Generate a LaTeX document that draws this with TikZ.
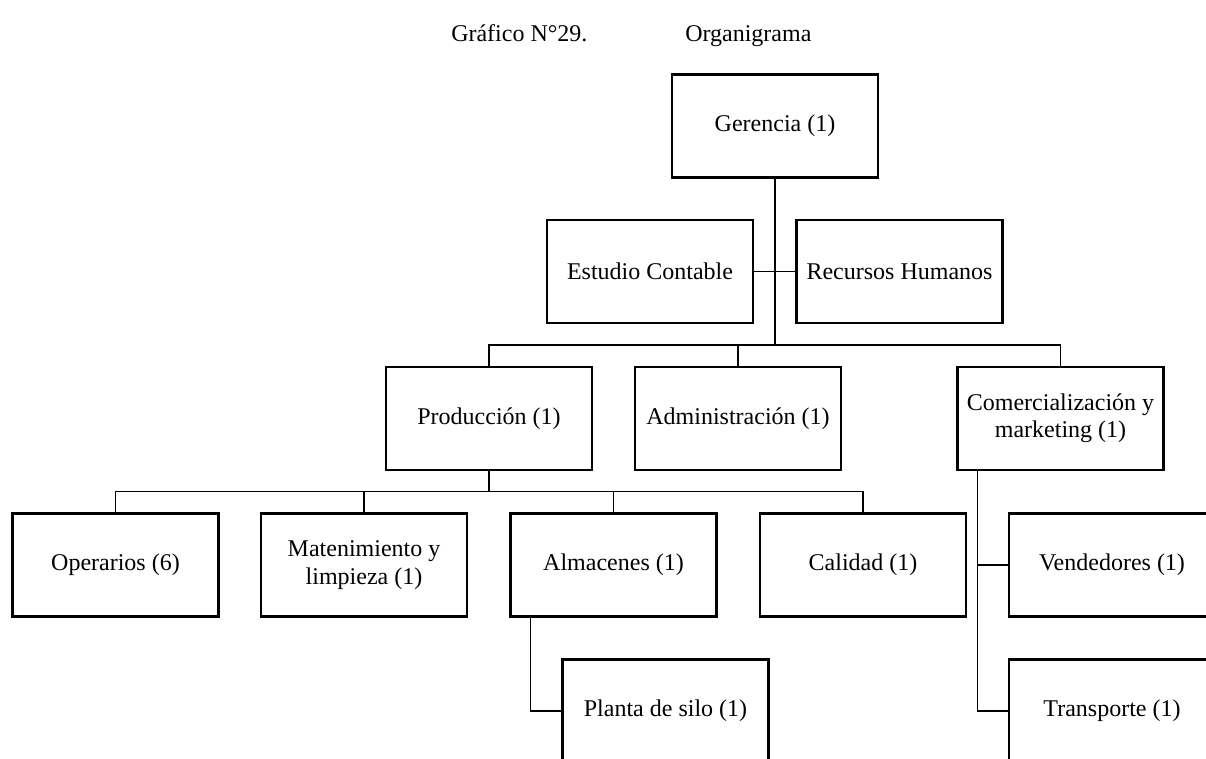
\documentclass[tikz,border=0pt]{standalone}
\usepackage{fontspec}
\setmainfont{Liberation Serif}
\begin{document}
\begin{tikzpicture}[x=0.75pt,y=-0.75pt,
  orgbox/.style={draw, line width=1.9pt, minimum width=154.5pt, minimum height=77.25pt,
    align=center, inner sep=2pt, font=\fontsize{18}{20.5}\selectfont},
  link/.style={line width=0.9pt},
  titletext/.style={inner sep=0pt, anchor=base west, font=\fontsize{18}{20.5}\selectfont}]
\path[use as bounding box] (0,0) rectangle (1206,758);
\clip (0,0) rectangle (1206,758);

% title
\node[titletext] (t1) at (451,41) {Gráfico N°29.};
\node[titletext] (t2) at (685,41) {Organigrama};

% boxes
\node[orgbox] (ger)  at (775,126)   {Gerencia (1)};
\node[orgbox] (est)  at (650,271.5) {Estudio Contable};
\node[orgbox] (rrhh) at (899.5,271.5) {Recursos Humanos};
\node[orgbox] (prod) at (489,418.5) {Producción (1)};
\node[orgbox] (adm)  at (738,418.5) {Administración (1)};
\node[orgbox] (com)  at (1060.5,418.5) {Comercialización y\\marketing (1)};
\node[orgbox] (ope)  at (115.5,565) {Operarios (6)};
\node[orgbox] (mat)  at (364,565)   {Matenimiento y\\limpieza (1)};
\node[orgbox] (alm)  at (613.5,565) {Almacenes (1)};
\node[orgbox] (cal)  at (863,565)   {Calidad (1)};
\node[orgbox] (ven)  at (1112,565)  {Vendedores (1)};
\node[orgbox] (pla)  at (665.5,711) {Planta de silo (1)};
\node[orgbox] (tra)  at (1112,711)  {Transporte (1)};

% junctions
\coordinate (j1) at (775,345);
\coordinate (j2) at (489,491.7);

% connectors
\draw[link] (ger.south) -- (j1);
\draw[link] (est.east) -- (rrhh.west);
\draw[link] (prod.north) |- (j1) -| (com.north);
\draw[link] (adm.north) -- (adm.north |- j1);

\draw[link] (prod.south) -- (j2);
\draw[link] (ope.north) |- (j2) -| (cal.north);
\draw[link] (mat.north) -- (mat.north |- j2);
\draw[link] (alm.north) -- (alm.north |- j2);

\draw[link] (alm.south west) ++(21,0) |- (pla.west);
\draw[link] (com.south west) ++(21,0) |- (tra.west);
\draw[link] (ven.west) -- ++(-30,0);
\end{tikzpicture}
\end{document}
